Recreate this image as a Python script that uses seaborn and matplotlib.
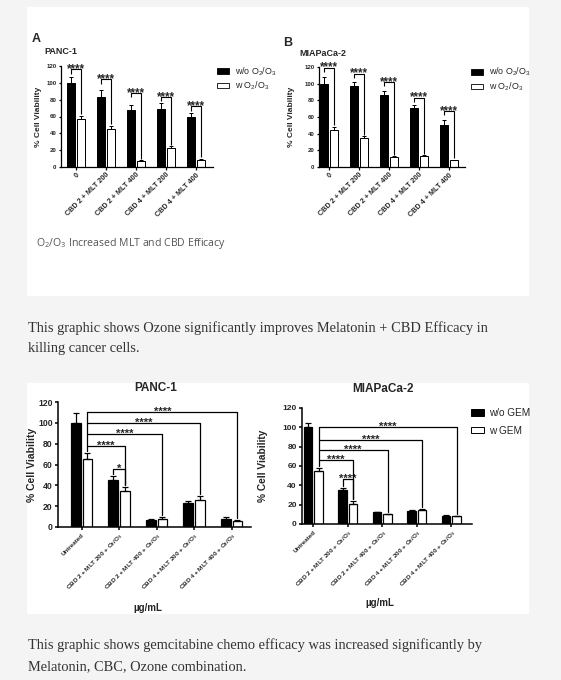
import numpy as np
import pandas as pd
import matplotlib
matplotlib.use("Agg")
import matplotlib.pyplot as plt
from matplotlib.patches import Rectangle, Patch
import seaborn as sns

# --------------------------
# Figure 1: O2/O3 with MLT + CBD
# --------------------------
top_groups = ["0", "CBD 2 + MLT 200", "CBD 2 + MLT 400", "CBD 4 + MLT 200", "CBD 4 + MLT 400"]
top_series = [r"w/o O$_2$/O$_3$", r"w O$_2$/O$_3$"]

panc_top_without = [100, 83, 68, 69.5, 59]
panc_top_without_err = [7, 9, 6, 6, 5]
panc_top_with = [57, 45, 7, 23, 8]
panc_top_with_err = [4, 4, 1, 1.5, 1.5]
panc_top_sig = [116, 104, 88, 83, 72]

mia_top_without = [100, 97, 86, 71, 51]
mia_top_without_err = [8, 5, 5, 4, 5]
mia_top_with = [45, 35, 12, 13, 8]
mia_top_with_err = [3, 2, 1, 1, 1]
mia_top_sig = [119, 112, 102, 83, 67]

# --------------------------
# Figure 2: gemcitabine
# --------------------------
gem_groups = ["Untreated",
              "CBD 2 + MLT 200 + O$_2$/O$_3$",
              "CBD 2 + MLT 400 + O$_2$/O$_3$",
              "CBD 4 + MLT 200 + O$_2$/O$_3$",
              "CBD 4 + MLT 400 + O$_2$/O$_3$"]
gem_series = ["w/o GEM", "w GEM"]

panc_gem_without = [100, 45, 7, 23, 7.5]
panc_gem_without_err = [9, 4, 1, 2, 2]
panc_gem_with = [65, 34.5, 8, 26, 6]
panc_gem_with_err = [6, 4, 1.5, 4, 0.5]
panc_gem_sig = [78, 89, 100, 110]      # untreated (w GEM) vs groups 1..4
panc_gem_stars = ["****", "****", "****", "****"]
panc_gem_pair_sig = 56                 # group 1: w/o vs w GEM
panc_gem_pair_stars = "*"

mia_gem_without = [100, 35.5, 12, 13.5, 8.5]
mia_gem_without_err = [5, 2, 0.5, 0.5, 1]
mia_gem_with = [54.5, 21, 10, 14.5, 8]
mia_gem_with_err = [3, 3, 0.5, 1, 0.5]
mia_gem_sig = [66, 77, 87, 100]
mia_gem_stars = ["****", "****", "****", "****"]
mia_gem_pair_sig = 47
mia_gem_pair_stars = "****"

yticks = [0, 20, 40, 60, 80, 100, 120]

# --------------------------
# Style
# --------------------------
sns.set_theme(style="ticks")
plt.rcParams["font.family"] = ["Liberation Sans", "DejaVu Sans"]
plt.rcParams["mathtext.default"] = "regular"
plt.rcParams["axes.facecolor"] = "white"

W, H = 561, 680
BG = "#f4f4f4"


def box(x0, y0, x1, y1):
    return [x0 / W, 1 - y1 / H, (x1 - x0) / W, (y1 - y0) / H]


def fx(x):
    return x / W


def fy(y):
    return 1 - y / H


def bar_panel(ax, groups, series, without, without_err, with_, with_err,
              lw, width, gap, cap, xlim, tick_fs, xtick_fs, ylabel_fs, ylab_x):
    df = pd.DataFrame({
        "group": groups * 2,
        "series": [series[0]] * len(groups) + [series[1]] * len(groups),
        "value": without + with_,
    })
    sns.barplot(data=df, x="group", y="value", hue="series", order=groups,
                hue_order=series, palette=["black", "white"], saturation=1,
                edgecolor="black", linewidth=lw * 0.8, width=width, gap=gap,
                errorbar=None, legend=False, ax=ax)
    xb = [p.get_x() + p.get_width() / 2 for p in ax.containers[0]]
    xw = [p.get_x() + p.get_width() / 2 for p in ax.containers[1]]
    n = len(groups)
    ax.errorbar(xb, without, yerr=[np.zeros(n), without_err], fmt="none",
                ecolor="black", elinewidth=lw * 0.8, capsize=cap, capthick=lw * 0.8, zorder=3)
    ax.errorbar(xw, with_, yerr=[np.zeros(n), with_err], fmt="none",
                ecolor="black", elinewidth=lw * 0.8, capsize=cap, capthick=lw * 0.8, zorder=3)

    ax.set_xlim(*xlim)
    ax.set_ylim(0, 120)
    ax.set_yticks(yticks)
    ax.set_yticklabels([str(t) for t in yticks], fontsize=tick_fs, fontweight="bold")
    ax.set_xticks(range(n))
    ax.set_xticklabels(groups, rotation=45, ha="right", rotation_mode="anchor",
                       fontsize=xtick_fs, fontweight="bold")
    ax.set_xlabel("")
    ax.set_ylabel("% Cell Viability", fontsize=ylabel_fs, fontweight="bold")
    ax.yaxis.set_label_coords(ylab_x, 0.5)
    sns.despine(ax=ax)
    for s in ["left", "bottom"]:
        ax.spines[s].set_linewidth(lw)
        ax.spines[s].set_color("black")
    ax.tick_params(axis="both", width=lw, length=2.0 * lw, pad=1.5, color="black")
    ax.set_facecolor("white")
    return xb, xw


def pair_brackets(ax, xb, xw, without, without_err, with_, with_err, levels, lw, fs):
    for i, lev in enumerate(levels):
        ax.plot([xb[i], xb[i], xw[i], xw[i]],
                [lev - 5, lev, lev, with_[i] + with_err[i] + 2],
                color="black", lw=lw, solid_capstyle="butt", zorder=4)
        ax.annotate("****", ((xb[i] + xw[i]) / 2, lev), xytext=(0, -2.0),
                    textcoords="offset points", ha="center", va="baseline",
                    fontsize=fs, fontweight="bold", annotation_clip=False)


def gem_brackets(ax, xb, xw, with_, with_err, without, without_err,
                 levels, stars, pair_level, pair_stars, lw, fs):
    base = with_[0] + with_err[0] + 2
    ax.plot([xw[0], xw[0]], [base, max(levels)], color="black", lw=lw, zorder=4)
    for k, lev in enumerate(levels):
        i = k + 1
        ax.plot([xw[0], xw[i], xw[i]], [lev, lev, with_[i] + with_err[i] + 2],
                color="black", lw=lw, zorder=4)
        ax.annotate(stars[k], ((xw[0] + xw[i]) / 2, lev), xytext=(0, -2.0),
                    textcoords="offset points", ha="center", va="baseline",
                    fontsize=fs, fontweight="bold", annotation_clip=False)
    ax.plot([xb[1], xb[1], xw[1], xw[1]],
            [without[1] + without_err[1] + 2, pair_level, pair_level, with_[1] + with_err[1] + 2],
            color="black", lw=lw, zorder=4)
    ax.annotate(pair_stars, ((xb[1] + xw[1]) / 2, pair_level), xytext=(0, -2.0),
                textcoords="offset points", ha="center", va="baseline",
                fontsize=fs, fontweight="bold", annotation_clip=False)


# --------------------------
# Page
# --------------------------
fig = plt.figure(figsize=(W / 100, H / 100), dpi=100, facecolor=BG)
fig.patches.append(Rectangle((fx(27), fy(296)), (529 - 27) / W, (296 - 7) / H,
                             transform=fig.transFigure, facecolor="white", edgecolor="none", zorder=-5))
fig.patches.append(Rectangle((fx(27), fy(614)), (529 - 27) / W, (614 - 383) / H,
                             transform=fig.transFigure, facecolor="white", edgecolor="none", zorder=-5))

# panel A
axA = fig.add_axes(box(61, 66, 213, 167))
xb, xw = bar_panel(axA, top_groups, top_series, panc_top_without, panc_top_without_err,
                   panc_top_with, panc_top_with_err, lw=0.9, width=0.65, gap=0.18, cap=1.6,
                   xlim=(-0.5, 4.57), tick_fs=4.4, xtick_fs=5.2, ylabel_fs=6.0, ylab_x=-0.125)
pair_brackets(axA, xb, xw, panc_top_without, panc_top_without_err,
              panc_top_with, panc_top_with_err, panc_top_sig, 0.8, 8.3)

# panel B
axB = fig.add_axes(box(319, 67, 465, 167))
xb, xw = bar_panel(axB, top_groups, top_series, mia_top_without, mia_top_without_err,
                   mia_top_with, mia_top_with_err, lw=0.9, width=0.65, gap=0.18, cap=1.6,
                   xlim=(-0.33, 4.53), tick_fs=4.4, xtick_fs=5.2, ylabel_fs=6.0, ylab_x=-0.164)
pair_brackets(axB, xb, xw, mia_top_without, mia_top_without_err,
              mia_top_with, mia_top_with_err, mia_top_sig, 0.8, 8.3)

top_handles = [Patch(facecolor="black", edgecolor="black", lw=0.6),
               Patch(facecolor="white", edgecolor="black", lw=0.6)]
for ax, (lx, ly) in [(axA, (217, 65)), (axB, (471, 66))]:
    ax.legend(top_handles, top_series, loc="upper left", bbox_to_anchor=(fx(lx), fy(ly)),
              bbox_transform=fig.transFigure, frameon=False, fontsize=6.4,
              handlelength=1.4, handleheight=0.55, handletextpad=0.6,
              labelspacing=0.25, borderpad=0, borderaxespad=0)

fig.text(fx(32), fy(39), "A", fontsize=9, fontweight="bold", va="center", ha="left")
fig.text(fx(44), fy(52), "PANC-1", fontsize=6.5, fontweight="bold", va="center", ha="left")
fig.text(fx(283), fy(43), "B", fontsize=9, fontweight="bold", va="center", ha="left")
fig.text(fx(299), fy(53), "MIAPaCa-2", fontsize=6.5, fontweight="bold", va="center", ha="left")
fig.text(fx(36), fy(243), "O$_2$/O$_3$ Increased MLT and CBD Efficacy", fontsize=7.6,
         family="Open Sans", color="#555555", va="center", ha="left")

# panel C
axC = fig.add_axes(box(58, 402, 251, 527))
xb, xw = bar_panel(axC, gem_groups, gem_series, panc_gem_without, panc_gem_without_err,
                   panc_gem_with, panc_gem_with_err, lw=1.1, width=0.62, gap=0.17, cap=2.2,
                   xlim=(-0.63, 4.52), tick_fs=6.2, xtick_fs=4.5, ylabel_fs=7.5, ylab_x=-0.109)
gem_brackets(axC, xb, xw, panc_gem_with, panc_gem_with_err, panc_gem_without,
             panc_gem_without_err, panc_gem_sig, panc_gem_stars,
             panc_gem_pair_sig, panc_gem_pair_stars, 0.9, 8)

# panel D
axD = fig.add_axes(box(302, 408, 472, 524))
xb, xw = bar_panel(axD, gem_groups, gem_series, mia_gem_without, mia_gem_without_err,
                   mia_gem_with, mia_gem_with_err, lw=1.1, width=0.61, gap=0.17, cap=2.2,
                   xlim=(-0.33, 4.6), tick_fs=6.0, xtick_fs=4.5, ylabel_fs=7.3, ylab_x=-0.2)
gem_brackets(axD, xb, xw, mia_gem_with, mia_gem_with_err, mia_gem_without,
             mia_gem_without_err, mia_gem_sig, mia_gem_stars,
             mia_gem_pair_sig, mia_gem_pair_stars, 0.9, 8)

gem_handles = [Patch(facecolor="black", edgecolor="black", lw=0.7),
               Patch(facecolor="white", edgecolor="black", lw=0.7)]
axD.legend(gem_handles, gem_series, loc="upper left", bbox_to_anchor=(fx(471), fy(408)),
           bbox_transform=fig.transFigure, frameon=False, fontsize=7.2,
           handlelength=1.25, handleheight=0.6, handletextpad=0.55,
           labelspacing=0.75, borderpad=0, borderaxespad=0)

fig.text(fx(156), fy(388), "PANC-1", fontsize=8.5, fontweight="bold", ha="center", va="center")
fig.text(fx(383), fy(389), "MIAPaCa-2", fontsize=8.5, fontweight="bold", ha="center", va="center")
fig.text(fx(148), fy(608), "µg/mL", fontsize=7, fontweight="bold", ha="center", va="center")
fig.text(fx(380), fy(603), "µg/mL", fontsize=7, fontweight="bold", ha="center", va="center")

# --------------------------
# Body text
# --------------------------
body = dict(fontsize=10.4, family="Liberation Serif", color="#333333", ha="left", va="center")
fig.text(fx(28), fy(328), "This graphic shows Ozone significantly improves Melatonin + CBD Efficacy in", **body)
fig.text(fx(28), fy(349), "killing cancer cells.", **body)
fig.text(fx(28), fy(645), "This graphic shows gemcitabine chemo efficacy was increased significantly by", **body)
fig.text(fx(28), fy(667), "Melatonin, CBC, Ozone combination.", **body)

fig.savefig("out.png", dpi=100, facecolor=BG)
